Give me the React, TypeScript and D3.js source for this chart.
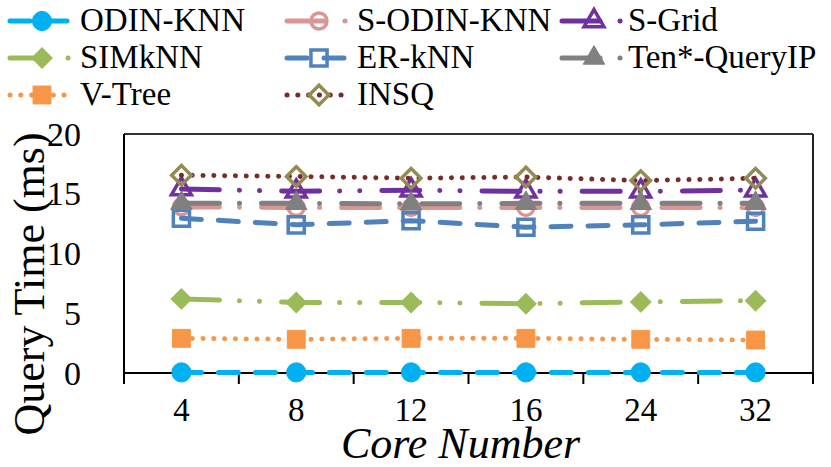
import React from "react";
import * as d3 from "d3";

// ---- data ----
const categories = ["4", "8", "12", "16", "24", "32"];
const yTicks = [0, 5, 10, 15, 20];
const seriesNames = ["ODIN-KNN", "S-ODIN-KNN", "S-Grid", "SIMkNN", "ER-kNN", "Ten*-QueryIP", "V-Tree", "INSQ"];
const odinKnn = [0.05, 0.05, 0.05, 0.05, 0.05, 0.05];
const sOdinKnn = [13.9, 13.85, 13.85, 13.85, 13.85, 13.85];
const sGrid = [15.4, 15.2, 15.3, 15.2, 15.2, 15.3];
const simKnn = [6.2, 5.9, 5.9, 5.8, 5.95, 6.05];
const erKnn = [12.95, 12.4, 12.75, 12.2, 12.4, 12.7];
const tenQueryIP = [14.2, 14.2, 14.15, 14.2, 14.2, 14.2];
const vTree = [2.9, 2.82, 2.9, 2.9, 2.82, 2.76];
const insq = [16.55, 16.45, 16.3, 16.4, 16.1, 16.3];
const seriesValues = [odinKnn, sOdinKnn, sGrid, simKnn, erKnn, tenQueryIP, vTree, insq];

// ---- styles ----
type Style = {
  color: string;
  dash: string;
  marker: "circle" | "triangle" | "square" | "diamond";
  filled: boolean;
  markerColor: string;
  size: number;
};
const styles: Style[] = [
  { color: "#00B0F0", dash: "20 17", marker: "circle", filled: true, markerColor: "#00B0F0", size: 290 },
  { color: "#DA9694", dash: "38 20 0.1 22", marker: "circle", filled: false, markerColor: "#DA9694", size: 200 },
  { color: "#7030A0", dash: "38 20 0.1 20 0.1 22", marker: "triangle", filled: false, markerColor: "#7030A0", size: 170 },
  { color: "#9BBB59", dash: "38 20 0.1 20 0.1 22", marker: "diamond", filled: true, markerColor: "#9BBB59", size: 210 },
  { color: "#4F81BD", dash: "20 17", marker: "square", filled: false, markerColor: "#4F81BD", size: 260 },
  { color: "#808080", dash: "38 20 0.1 22", marker: "triangle", filled: true, markerColor: "#808080", size: 200 },
  { color: "#F79646", dash: "0.1 10.7", marker: "square", filled: true, markerColor: "#F79646", size: 320 },
  { color: "#772C2A", dash: "0.1 10.7", marker: "diamond", filled: false, markerColor: "#948A54", size: 190 },
];

const W = 831;
const H = 467;
const plot = { left: 124, right: 813, top: 134, bottom: 373 };
const FONT = "'Liberation Serif', 'Times New Roman', Times, serif";

const legendColX = [10, 287, 562];
const legendTextX = [80, 357, 628];
const legendRowY = [21, 58, 95];

function symbolPath(s: Style) {
  const t =
    s.marker === "circle"
      ? d3.symbolCircle
      : s.marker === "triangle"
      ? d3.symbolTriangle
      : d3.symbolSquare;
  return d3.symbol().type(t).size(s.size)() as string;
}

function Marker({ s, x, y }: { s: Style; x: number; y: number }) {
  const rot = s.marker === "diamond" ? 45 : 0;
  return (
    <path
      d={symbolPath(s)}
      transform={`translate(${x},${y}) rotate(${rot})`}
      fill={s.filled ? s.markerColor : "none"}
      stroke={s.markerColor}
      strokeWidth={s.filled ? 1 : 3.5}
    />
  );
}

export default function App() {
  const x = d3.scaleBand<string>().domain(categories).range([plot.left, plot.right]).padding(0);
  const y = d3.scaleLinear().domain([0, 20]).range([plot.bottom, plot.top]);
  const cx = (c: string) => (x(c) as number) + x.bandwidth() / 2;
  const line = d3
    .line<number>()
    .x((_, i) => cx(categories[i]))
    .y((v) => y(v));
  const tickXs = [...categories.map((c) => x(c) as number), plot.right];

  return (
    <svg
      width={W}
      height={H}
      style={{ position: "absolute", left: 0, top: 0, background: "#fff" }}
      fontFamily={FONT}
    >
      {/* plot box */}
      <line x1={plot.left} x2={plot.right} y1={plot.top} y2={plot.top} stroke="#333" strokeWidth={2} />
      <line x1={plot.right} x2={plot.right} y1={plot.top} y2={plot.bottom + 11} stroke="#222" strokeWidth={2} />
      <line x1={plot.left} x2={plot.left} y1={plot.top} y2={plot.bottom + 11} stroke="#000" strokeWidth={2} />
      <line x1={plot.left} x2={plot.right} y1={plot.bottom} y2={plot.bottom} stroke="#000" strokeWidth={2} />
      {tickXs.map((tx, i) => (
        <line key={i} x1={tx} x2={tx} y1={plot.bottom} y2={plot.bottom + 11} stroke="#000" strokeWidth={2} />
      ))}

      {/* y tick labels */}
      {yTicks.map((t) => (
        <text key={t} x={81} y={y(t) + 11.5} fontSize={34} textAnchor="end" fill="#000">
          {t}
        </text>
      ))}
      {/* x tick labels */}
      {categories.map((c) => (
        <text key={c} x={cx(c)} y={421} fontSize={33} textAnchor="middle" fill="#000">
          {c}
        </text>
      ))}

      {/* axis titles */}
      <text x={(plot.left + plot.right) / 2 - 8} y={458} fontSize={44} fontStyle="italic" textAnchor="middle">
        Core Number
      </text>
      <text transform="translate(44,284) rotate(-90)" fontSize={44} textAnchor="middle">
        Query Time (ms)
      </text>

      {/* series */}
      {seriesValues.map((vals, si) => {
        const s = styles[si];
        return (
          <g key={si}>
            <path
              d={line(vals) as string}
              fill="none"
              stroke={s.color}
              strokeWidth={5}
              strokeDasharray={s.dash}
              strokeLinecap="round"
            />
            {vals.map((v, i) => (
              <Marker key={i} s={s} x={cx(categories[i])} y={y(v)} />
            ))}
          </g>
        );
      })}

      {/* legend */}
      {seriesNames.map((name, i) => {
        const col = i % 3;
        const row = Math.floor(i / 3);
        const s = styles[i];
        const x0 = legendColX[col];
        const ly = legendRowY[row];
        return (
          <g key={name}>
            <line
              x1={x0}
              x2={x0 + 60}
              y1={ly}
              y2={ly}
              stroke={s.color}
              strokeWidth={5}
              strokeDasharray={s.dash}
              strokeLinecap="round"
            />
            <Marker s={s} x={x0 + 32} y={ly} />
            <text x={legendTextX[col]} y={ly + 10} fontSize={33} fill="#000">
              {name}
            </text>
          </g>
        );
      })}
    </svg>
  );
}
